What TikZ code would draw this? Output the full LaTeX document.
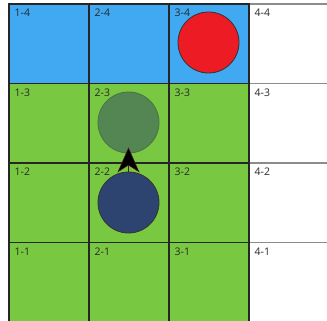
\documentclass[tikz,border=0pt]{standalone}
\usepackage{fontspec}
\setsansfont{Open Sans}
\usetikzlibrary{arrows.meta, positioning}
\definecolor{skyblue}{RGB}{65, 169, 241}
\definecolor{grassgreen}{RGB}{121, 200, 66}
\definecolor{targetred}{RGB}{237, 28, 36}
\definecolor{robotblue}{RGB}{46, 68, 112}
\definecolor{ghostgreen}{RGB}{84, 134, 84}
\definecolor{arrowedge}{RGB}{70, 25, 25}

\begin{document}
\begin{tikzpicture}[x=1pt, y=-1pt,
    cell label/.style={anchor=north west, inner sep=0pt, text=black!85, font=\sffamily\fontsize{10.5}{12}\selectfont},
    disc/.style={circle, minimum size=61pt, inner sep=0pt, line width=0.8pt}]
    \useasboundingbox (0,0) rectangle (327,321);
    \clip (0,0) rectangle (327,321);

    % White column (4-x)
    \foreach \j in {1,...,4}
        \draw[fill=white, draw=black!45, line width=1.1pt]
            (249, {4+79.5*(4-\j)}) rectangle ++(80, 79.5);

    % Coloured cells
    \foreach \i in {1,2,3}
        \foreach \j in {1,...,4} {
            \ifnum\j=4 \def\cellcol{skyblue}\else \def\cellcol{grassgreen}\fi
            \draw[fill=\cellcol, draw=black!85, line width=1.1pt]
                ({9+80*(\i-1)}, {4+79.5*(4-\j)}) rectangle ++(80, 79.5);
        }

    % Labels
    \foreach \i in {1,...,4}
        \foreach \j in {1,...,4}
            \node[cell label] (lbl-\i-\j) at ({14.5+80*(\i-1)}, {9+79.5*(4-\j)}) {\i-\j};

    % Target, ghost and robot
    \node[disc, fill=targetred, draw=black!80] (goal) at (208.5, 42.5) {};
    \node[disc, fill=ghostgreen, draw=ghostgreen!85!black] (ghost) at (128.5, 122.5) {};
    \node[disc, fill=robotblue, draw=black!80] (robot) at (128.5, 202.5) {};

    \draw[arrowedge, line width=0.6pt, line cap=butt,
        -{Stealth[length=25pt, width=22pt, inset=7pt, fill=black]}]
        (robot.north) -- ([yshift=6pt]ghost.south);
\end{tikzpicture}
\end{document}
